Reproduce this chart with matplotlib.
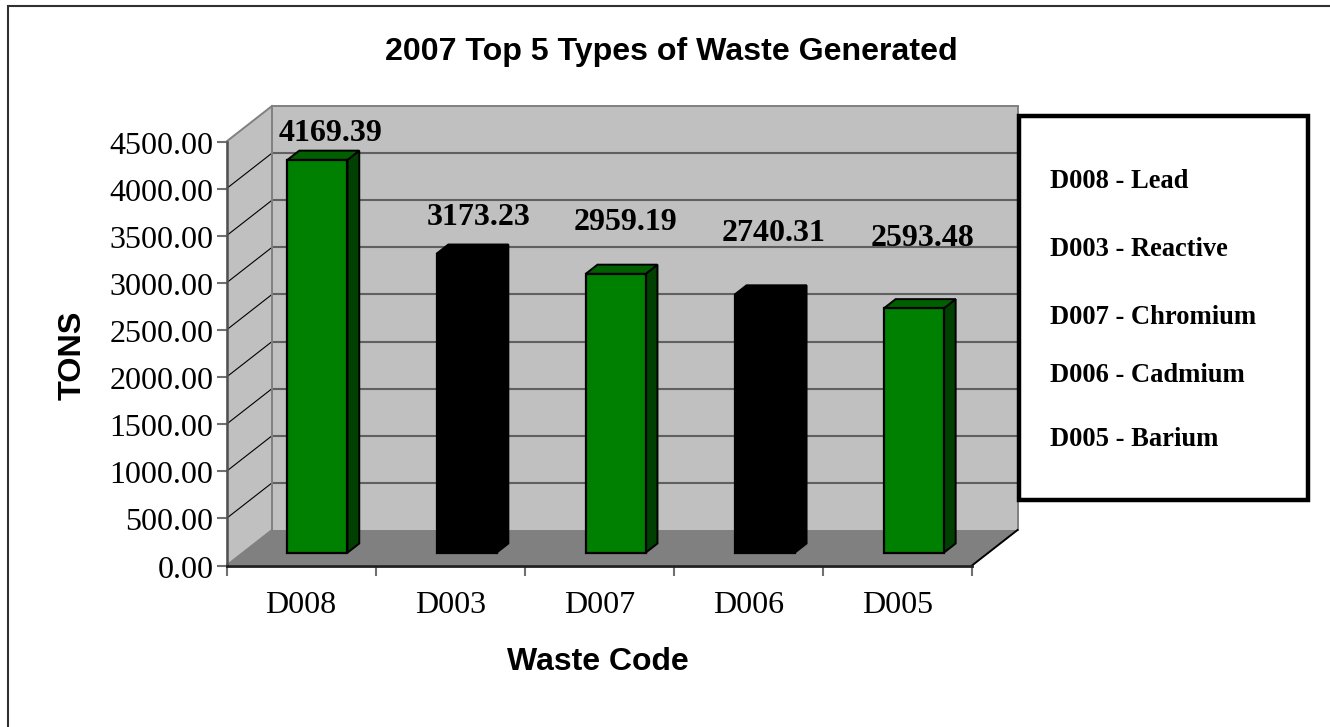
import matplotlib
matplotlib.use("Agg")
import matplotlib.pyplot as plt
from matplotlib.patches import Polygon, Rectangle
from matplotlib.lines import Line2D
from matplotlib.transforms import Affine2D, ScaledTranslation

# ---- data ----
codes = ["D008", "D003", "D007", "D006", "D005"]
tons = [4169.39, 3173.23, 2959.19, 2740.31, 2593.48]
legend_names = ["D008 - Lead", "D003 - Reactive", "D007 - Chromium",
                "D006 - Cadmium", "D005 - Barium"]
y_ticks = [0, 500, 1000, 1500, 2000, 2500, 3000, 3500, 4000, 4500]

# ---- layout (pixels, y downward) ----
W, H = 1330, 727
AX_L, AX_R, AX_B, AX_T = 226.5, 972.0, 565.5, 141.5
DEPTH_X, DEPTH_Y = 45.5, 35.5
Z_FRONT, Z_BACK = 0.36, 0.62
BAR_W_PX = 60
LABEL_LIFT = [17, 27, 42, 52, 61]
LABEL_SHIFT = [1, 0, -2, -3, -3]
LEGEND_Y = [181, 250, 317, 376, 440]

fig = plt.figure(figsize=(W / 100, H / 100), dpi=100, facecolor="white")
px = Affine2D().scale(1 / W, -1 / H).translate(0, 1) + fig.transFigure
ax = fig.add_axes([AX_L / W, 1 - AX_B / H, (AX_R - AX_L) / W, (AX_B - AX_T) / H])
ax.patch.set_visible(False)
ax.set_xlim(-0.5, len(codes) - 0.5)
ax.set_ylim(0, 4500)

X_PER_PX = len(codes) / (AX_R - AX_L)
Y_PER_PX = 4500 / (AX_B - AX_T)
DX = DEPTH_X * X_PER_PX
DY = DEPTH_Y * Y_PER_PX
x_lo, x_hi = -0.5, len(codes) - 0.5
top = y_ticks[-1]


def pr(x, y, z):
    return (x + z * DX, y + z * DY)


def face(pts, color, edge="none", lw=0.0, z=2):
    ax.add_patch(Polygon(pts, closed=True, facecolor=color, edgecolor=edge,
                         linewidth=lw, clip_on=False, zorder=z, joinstyle="miter"))


WALL, FLOOR = "#C0C0C0", "#808080"
face([pr(x_lo, 0, 1), pr(x_hi, 0, 1), pr(x_hi, top, 1), pr(x_lo, top, 1)], WALL, z=1)
face([pr(x_lo, 0, 0), pr(x_lo, top, 0), pr(x_lo, top, 1), pr(x_lo, 0, 1)], WALL, z=1)
face([pr(x_lo, 0, 0), pr(x_hi, 0, 0), pr(x_hi, 0, 1), pr(x_lo, 0, 1)], FLOOR, z=1)

for t in y_ticks[1:-1]:
    ax.plot(*zip(pr(x_lo, t, 1), pr(x_hi, t, 1)), color="#606060", lw=1.5,
            clip_on=False, zorder=1.5, solid_capstyle="butt")
    ax.plot(*zip(pr(x_lo, t, 0), pr(x_lo, t, 1)), color="black", lw=0.8,
            clip_on=False, zorder=1.5)
# wall outlines
for a, b, c in [(pr(x_lo, top, 0), pr(x_lo, top, 1), "#808080"),
                (pr(x_lo, top, 1), pr(x_hi, top, 1), "#808080"),
                (pr(x_lo, 0, 1), pr(x_lo, top, 1), "#808080"),
                (pr(x_hi, 0, 1), pr(x_hi, top, 1), "#808080"),
                (pr(x_hi, 0, 0), pr(x_hi, 0, 1), "black"),
                (pr(x_lo, 0, 0), pr(x_lo, 0, 1), "#808080")]:
    ax.plot(*zip(a, b), color=c, lw=1.4, clip_on=False, zorder=1.6)

# ---- bars ----
half = BAR_W_PX * X_PER_PX / 2
GREEN = ("#008000", "#006000", "#004000")
BLACK = ("#000000", "#000000", "#000000")
for i, v in enumerate(tons):
    front, topc, side = GREEN if i % 2 == 0 else BLACK
    ox = i + Z_FRONT * DX
    oy = Z_FRONT * DY
    r = i + half
    l = i - half
    face([pr(r, 0, Z_FRONT), pr(r, 0, Z_BACK), pr(r, v, Z_BACK), pr(r, v, Z_FRONT)],
         side, "black", 1.4, 3)
    face([pr(l, v, Z_FRONT), pr(r, v, Z_FRONT), pr(r, v, Z_BACK), pr(l, v, Z_BACK)],
         topc, "black", 1.4, 3)
    ax.bar(ox, v, width=2 * half, bottom=oy, color=front, edgecolor="black",
           linewidth=1.6, clip_on=False, zorder=3.5)
    tx, ty = pr(i, v, Z_BACK)
    ax.annotate(f"{v:.2f}", xy=(tx, ty), xytext=(LABEL_SHIFT[i] * 0.72, LABEL_LIFT[i] * 0.72),
                textcoords="offset points", ha="center", va="center",
                family="Liberation Serif", weight="bold", fontsize=23,
                color="black", zorder=5, annotation_clip=False)

# ---- axes ----
for s in ("top", "right"):
    ax.spines[s].set_visible(False)
ax.spines["left"].set_color("#505050")
ax.spines["left"].set_linewidth(1.8)
ax.spines["bottom"].set_color("#202020")
ax.spines["bottom"].set_linewidth(2.0)
for s in ax.spines.values():
    s.set_zorder(4)
ax.set_yticks(y_ticks)
ax.set_yticklabels([f"{t:.2f}" for t in y_ticks], family="Liberation Serif", fontsize=23)
ax.tick_params(axis="y", length=7, width=1.5, color="#707070", pad=2.5)
nudge = ScaledTranslation(0, -1 / 100, fig.dpi_scale_trans)
for lab in ax.get_yticklabels():
    lab.set_transform(lab.get_transform() + nudge)
ax.set_xticks([i - 0.5 for i in range(len(codes) + 1)])
ax.set_xticklabels([])
ax.set_xticks(list(range(len(codes))), minor=True)
ax.set_xticklabels(codes, minor=True, family="Liberation Serif", fontsize=23)
ax.tick_params(axis="x", which="major", length=7, width=1.5, color="#707070")
ax.tick_params(axis="x", which="minor", length=0, pad=18.5)

ax.set_xlabel("Waste Code", family="Liberation Sans", weight="bold", fontsize=23)
ax.xaxis.set_label_coords(598, 662, transform=px)
ax.xaxis.label.set_va("center")
ax.set_ylabel("TONS", family="Liberation Sans", weight="bold", fontsize=23.3)
ax.yaxis.set_label_coords(73, 355.5, transform=px)
ax.yaxis.label.set_va("center")
fig.text(671, 52, "2007 Top 5 Types of Waste Generated", transform=px,
         family="Liberation Sans", weight="bold", fontsize=23.1, ha="center", va="center")

# ---- legend box ----
fig.add_artist(Rectangle((1018.5, 116), 289.5, 384, transform=px, facecolor="white",
                         edgecolor="black", linewidth=3.2, zorder=6, joinstyle="miter"))
for name, y in zip(legend_names, LEGEND_Y):
    fig.text(1050, y, name, transform=px, family="Liberation Serif", weight="bold",
             fontsize=19.1, ha="left", va="center", zorder=7)

# ---- chart frame ----
fig.add_artist(Line2D([8, 8, W], [H, 6, 6], transform=px, color="#303030", lw=1.5,
                      solid_joinstyle="miter", zorder=8))

fig.savefig("out.png", dpi=100)
